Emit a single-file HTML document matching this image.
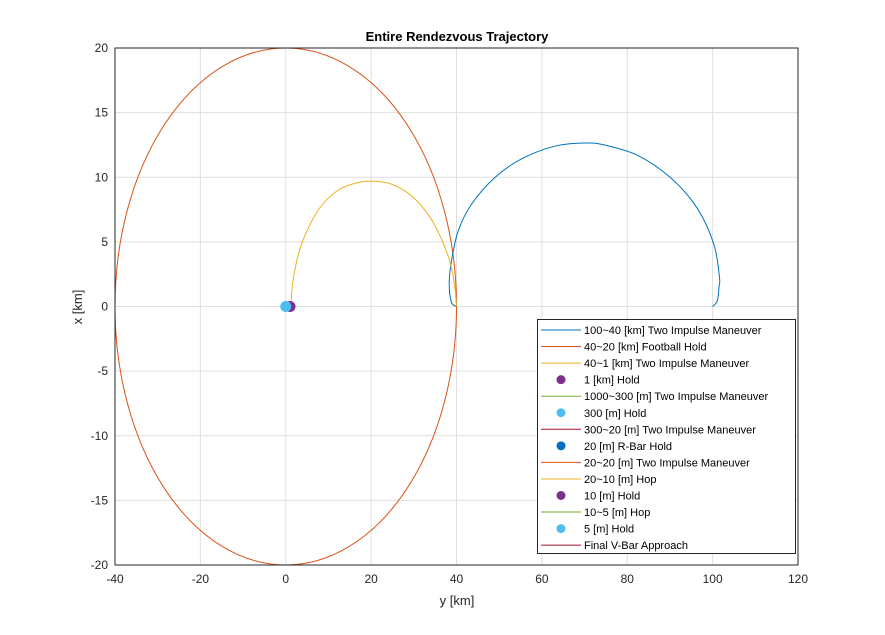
<!DOCTYPE html>
<html><head><meta charset="utf-8"><style>
body{margin:0;background:#fff;}
svg{display:block;font-family:"Liberation Sans",Arial,sans-serif;}
</style></head><body>
<svg id="chart" width="885" height="635" viewBox="0 0 885 635">
<rect width="885" height="635" fill="#fff"/>
<g id="grid"></g>
<g id="series"></g>
<rect x="115" y="48" width="683" height="517" fill="none" stroke="#262626" stroke-width="1"/>
<g id="ticks"></g>
<text x="457" y="41" text-anchor="middle" font-size="13" font-weight="bold" fill="#000">Entire Rendezvous Trajectory</text>
<text x="457" y="605" text-anchor="middle" font-size="13" fill="#262626">y [km]</text>
<text x="82" y="307" text-anchor="middle" font-size="13" fill="#262626" transform="rotate(-90 82 307)">x [km]</text>
<g id="legend"></g>
</svg>
<script>
const xTicks=[-40,-20,0,20,40,60,80,100,120];
const yTicks=[-20,-15,-10,-5,0,5,10,15,20];
const footballCenter=[0,0];
const footballRadii=[40,20];
const blueY=[100,101.1,101.5,101.6,100.3,96.4,90.2,82.4,74.6,70,63,55.1,48.9,43.5,40.4,38.8,38.3,38.8,40];
const blueX=[0,0.45,1.5,2.25,4.8,7.6,9.95,11.7,12.5,12.65,12.4,11.4,9.95,7.9,5.85,3.5,1.75,0.33,0];
const yellowY=[1,1.2,1.7,3.2,5.6,8.6,12.5,16.4,20.2,24.9,29.5,33.4,36.4,38.4,39.5,40];
const yellowX=[0,0.2,2.0,4.3,6.3,7.9,9.05,9.55,9.7,9.45,8.55,7.1,5.3,3.5,1.75,0];
const dotY=[1,0];
const dotX=[0,0];
const dotColors=["#7e2f8e","#4dbeee"];
const legendLabels=["100~40 [km] Two Impulse Maneuver","40~20 [km] Football Hold","40~1 [km] Two Impulse Maneuver","1 [km] Hold","1000~300 [m] Two Impulse Maneuver","300 [m] Hold","300~20 [m] Two Impulse Maneuver","20 [m] R-Bar Hold","20~20 [m] Two Impulse Maneuver","20~10 [m] Hop","10 [m] Hold","10~5 [m] Hop","5 [m] Hold","Final V-Bar Approach"];
const legendTypes=["l","l","l","d","l","d","l","d","l","l","d","l","d","l"];
const legendColors=["#0072bd","#d95319","#edb120","#7e2f8e","#77ac30","#4dbeee","#a2142f","#0072bd","#d95319","#edb120","#7e2f8e","#77ac30","#4dbeee","#a2142f"];
const NS="http://www.w3.org/2000/svg";
const sx=v=>115+(v+40)/160*683;
const sy=v=>306.5-v/40*517;
function mk(t,a,p){const e=document.createElementNS(NS,t);for(const k in a)e.setAttribute(k,a[k]);p.appendChild(e);return e;}
const grid=document.getElementById('grid'),ticks=document.getElementById('ticks'),ser=document.getElementById('series'),leg=document.getElementById('legend');
xTicks.forEach(v=>{
 const l=mk('line',{x1:sx(v),x2:sx(v),y1:48,y2:565,stroke:'#dfdfdf'},grid);
 
 const t=mk('text',{x:sx(v),y:583,'text-anchor':'middle','font-size':12,fill:'#262626'},ticks);t.textContent=v;
 
});
yTicks.forEach(v=>{
 const l=mk('line',{x1:115,x2:798,y1:sy(v),y2:sy(v),stroke:'#dfdfdf'},grid);
 
 const t=mk('text',{x:108,y:sy(v)+4,'text-anchor':'end','font-size':12,fill:'#262626'},ticks);t.textContent=v;
 
});
const ell=mk('ellipse',{cx:sx(footballCenter[0]),cy:sy(footballCenter[1]),rx:sx(footballRadii[0])-sx(0),ry:sy(0)-sy(footballRadii[1]),fill:'none',stroke:'#d95319','stroke-width':1},ser);

function path(ys,xs,c,name){
 const P=ys.map((y,i)=>[sx(y),sy(xs[i])]);
 let d='M'+P[0][0].toFixed(1)+' '+P[0][1].toFixed(1);
 for(let i=0;i<P.length-1;i++){
  const p0=P[Math.max(i-1,0)],p1=P[i],p2=P[i+1],p3=P[Math.min(i+2,P.length-1)];
  const c1=[p1[0]+(p2[0]-p0[0])/6,p1[1]+(p2[1]-p0[1])/6];
  const c2=[p2[0]-(p3[0]-p1[0])/6,p2[1]-(p3[1]-p1[1])/6];
  d+=' C'+c1.map(v=>v.toFixed(1)).join(' ')+' '+c2.map(v=>v.toFixed(1)).join(' ')+' '+p2.map(v=>v.toFixed(1)).join(' ');
 }
 const p=mk('path',{d:d,fill:'none',stroke:c,'stroke-width':1,'stroke-linejoin':'round'},ser);
 
}
path(blueY,blueX,'#0072bd','maneuver-100-40-line');
path(yellowY,yellowX,'#edb120','maneuver-40-1-line');
dotY.forEach((y,i)=>{
 const c=mk('circle',{cx:sx(y),cy:sy(dotX[i]),r:5.5,fill:dotColors[i]},ser);
 
});
const lb=mk('rect',{x:537.5,y:319.5,width:258,height:234,fill:'#fff',stroke:'#262626'},leg);

legendLabels.forEach((s,i)=>{
 const y=330+i*16.55;
 if(legendTypes[i]==='l'){const l=mk('line',{x1:541,x2:581,y1:y,y2:y,stroke:legendColors[i]},leg);
  }
 else{const c=mk('circle',{cx:561,cy:y,r:4.5,fill:legendColors[i]},leg);
  }
 const t=mk('text',{x:584,y:y+4,'font-size':11,fill:'#000'},leg);t.textContent=s;
 
});
</script>
</body></html>
